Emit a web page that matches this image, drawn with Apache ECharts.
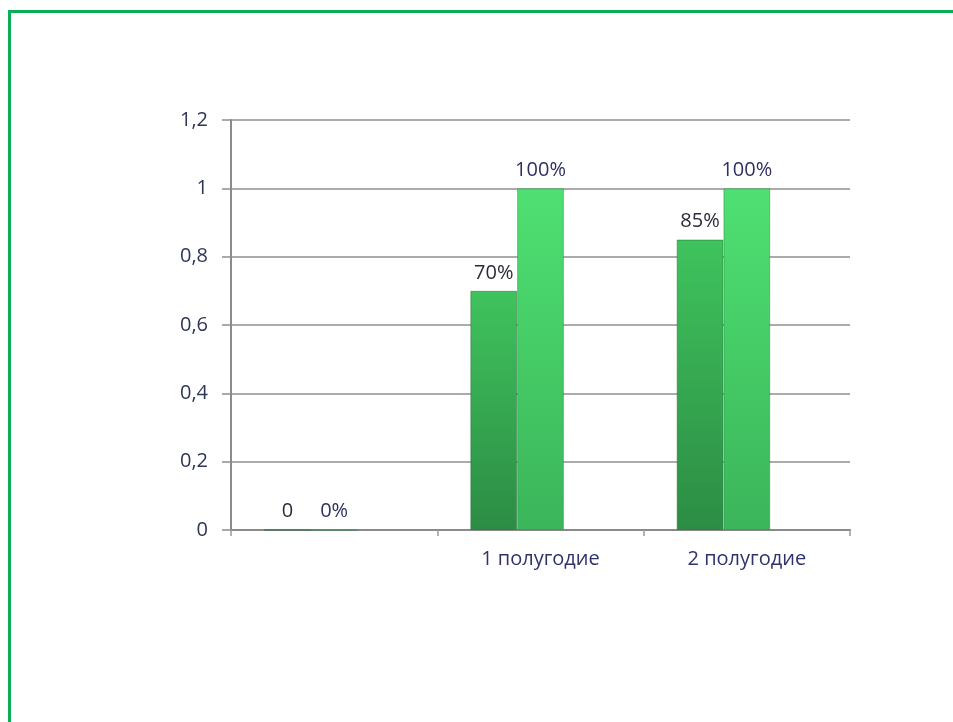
<!DOCTYPE html>
<html>
<head>
<meta charset="utf-8">
<script src="https://cdn.jsdelivr.net/npm/echarts@6/dist/echarts.min.js"></script>
<style>
html,body{margin:0;padding:0;background:#fff;}
#c{width:953px;height:722px;}
</style>
</head>
<body>
<div id="c"></div>
<script>
var categories = ["", "1 полугодие", "2 полугодие"];
var seriesA = [0, 0.7, 0.85];
var seriesB = [0, 1, 1];
var seriesC = [null, null, null];
var labelsA = ["0", "70%", "85%"];
var labelsB = ["0%", "100%", "100%"];
var yTickLabels = {"0":"0","0.2":"0,2","0.4":"0,4","0.6":"0,6","0.8":"0,8","1":"1","1.2":"1,2"};

var FONT = '"Open Sans", "DejaVu Sans", sans-serif';
var chart = echarts.init(document.getElementById('c'), null, {renderer:'canvas'});

function grad(top, bottom){
  return new echarts.graphic.LinearGradient(0,0,0,1,[{offset:0,color:top},{offset:1,color:bottom}]);
}

chart.setOption({
  animation:false,
  backgroundColor:'#ffffff',
  graphic:[{
    type:'rect', silent:true, z:100,
    shape:{x:9.5, y:11.5, width:1000, height:900},
    style:{fill:'none', stroke:'#0bae55', lineWidth:3}
  }],
  grid:{left:231, right:103, top:120, bottom:192, containLabel:false},
  xAxis:{
    type:'category', data:categories,
    axisLine:{show:true, lineStyle:{color:'#8a8a8a', width:2}},
    axisTick:{show:true, alignWithLabel:false, length:6, lineStyle:{color:'#9a9a9a', width:1.5}},
    axisLabel:{color:'#30336b', fontFamily:FONT, fontSize:20, margin:19}
  },
  yAxis:{
    type:'value', min:0, max:1.2, interval:0.2,
    axisLine:{show:true, lineStyle:{color:'#8a8a8a', width:2}},
    axisTick:{show:true, length:9, lineStyle:{color:'#8f8f8f', width:1.5}},
    splitLine:{show:true, lineStyle:{color:'#8f8f8f', width:1.5}},
    axisLabel:{color:'#2d3656', fontFamily:FONT, fontSize:20, margin:23,
      formatter:function(v){ var k=String(Math.round(v*10)/10); return yTickLabels[k]!==undefined?yTickLabels[k]:k; }}
  },
  series:[
    {
      type:'bar', data:seriesA, barGap:'0%', barCategoryGap:'32%',
      itemStyle:{color:grad('#3fc35d','#2c8c44'), borderColor:'rgba(30,110,50,0.5)', borderWidth:1},
      label:{show:true, position:'top', distance:8, color:'#2b2b3b', fontFamily:FONT, fontSize:20,
        formatter:function(p){return labelsA[p.dataIndex];}}
    },
    {
      type:'bar', data:seriesB,
      itemStyle:{color:grad('#4fe072','#3bb55a'), borderColor:'rgba(40,140,70,0.5)', borderWidth:1},
      label:{show:true, position:'top', distance:8, color:'#2d3160', fontFamily:FONT, fontSize:20,
        formatter:function(p){return labelsB[p.dataIndex];}}
    },
    {
      type:'bar', data:seriesC,
      itemStyle:{color:'#2f7fc0'}
    }
  ]
});
</script>
</body>
</html>
